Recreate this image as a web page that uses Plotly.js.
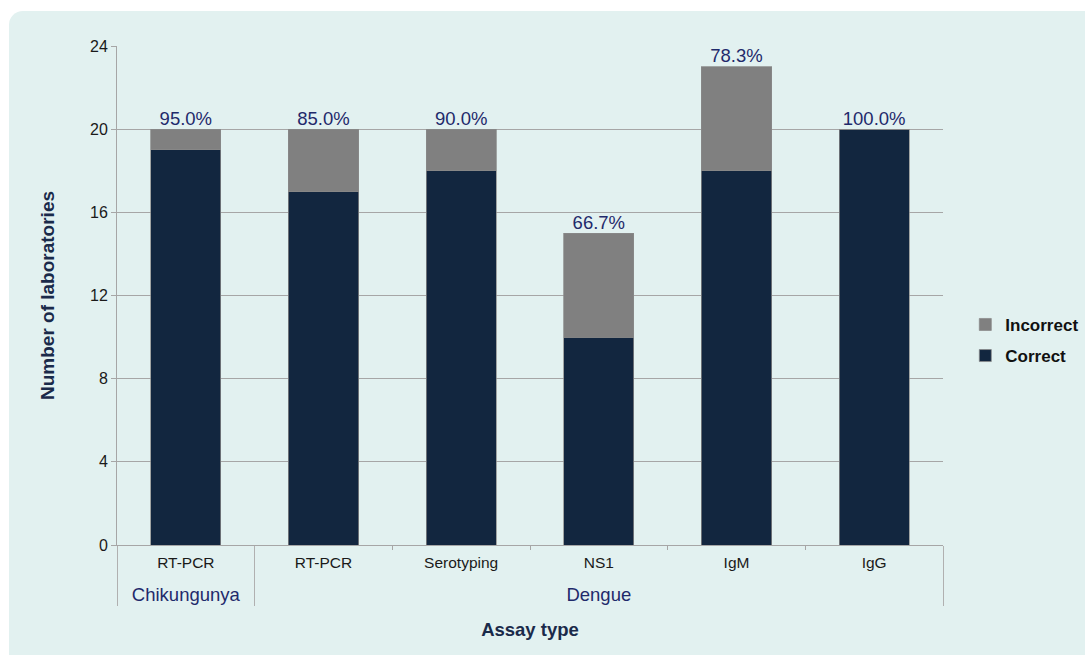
<!DOCTYPE html>
<html>
<head>
<meta charset="utf-8">
<script src="https://cdn.plot.ly/plotly-3.0.1.min.js"></script>
<style>
  html, body { margin: 0; padding: 0; background: #ffffff; }
  #panel { position: absolute; left: 9px; top: 11px; width: 1090px; height: 660px;
           background: #e2f1f0; border-radius: 14px; }
  #chart { position: absolute; left: 0; top: 0; width: 1085px; height: 655px; }
  .xtick text { font-size: 15.5px !important; fill: #1a1a1a !important; }
  .xtick2 text { fill: #1f2a6b !important; }
  g.xtick2 { transform: translateY(14px); }
</style>
</head>
<body>
<div id="panel"></div>
<div id="chart"></div>
<script>
const groups = ["Chikungunya", "Dengue", "Dengue", "Dengue", "Dengue", "Dengue"];
const assays = ["RT-PCR", "RT-PCR", "Serotyping", "NS1", "IgM", "IgG"];
const correct = [19, 17, 18, 10, 18, 20];
const incorrect = [1, 3, 2, 5, 5, 0];
const pctLabels = ["95.0%", "85.0%", "90.0%", "66.7%", "78.3%", "100.0%"];
const totals = correct.map((c, i) => c + incorrect[i]);

const x = [groups, assays];
const font = "Liberation Sans, Arial, sans-serif";

const traces = [
  { type: "bar", name: "Correct", x: x, y: correct, legendgroup: "c", legendrank: 2,
    marker: { color: "#12263f", line: { color: "#8a8a8a", width: 0.75 } } },
  { type: "bar", name: "Incorrect", x: x, y: incorrect, legendgroup: "i", legendrank: 1,
    marker: { color: "#808080", line: { color: "#8a8a8a", width: 0.75 } } },
  { type: "scatter", mode: "text", x: x, y: totals, text: pctLabels,
    textposition: "top center", showlegend: false, hoverinfo: "skip",
    textfont: { family: font, size: 18.5, color: "#1f2a6b" } }
];

const layout = {
  width: 1085, height: 655,
  paper_bgcolor: "rgba(0,0,0,0)", plot_bgcolor: "rgba(0,0,0,0)",
  barmode: "stack", bargap: 0.49,
  margin: { l: 117, r: 142, t: 46, b: 110, autoexpand: false },
  font: { family: font, color: "#1a1a1a" },
  showlegend: true,
  legend: { x: 1.027, y: 0.41, xanchor: "left", yanchor: "middle",
            traceorder: "grouped", tracegroupgap: 6,
            font: { size: 17, color: "#111111", weight: "bold" },
            bgcolor: "rgba(0,0,0,0)", itemclick: false },
  xaxis: {
    type: "multicategory",
    tickfont: { size: 18.5, color: "#1a1a1a" },
    showline: true, linecolor: "#a6a6a6", linewidth: 1,
    ticks: "outside", ticklen: 4, tickcolor: "#a6a6a6",
    showdividers: true, dividercolor: "#b0b0b0", dividerwidth: 1,
    showgrid: false, automargin: false,
    title: { text: "<b>Assay type</b>", font: { size: 18.5, color: "#1a2a4a" }, standoff: 18 }
  },
  yaxis: {
    range: [0, 24], tickvals: [0, 4, 8, 12, 16, 20, 24],
    tickfont: { size: 16, color: "#1a1a1a" },
    showgrid: true, gridcolor: "#a6a6a6", gridwidth: 1,
    showline: true, linecolor: "#a6a6a6", linewidth: 1,
    ticks: "outside", ticklen: 5, tickcolor: "#a6a6a6",
    zeroline: false, automargin: false,
    title: { text: "<b>Number of laboratories</b>", font: { size: 19, color: "#1a2a4a" }, standoff: 30 }
  }
};

Plotly.newPlot("chart", traces, layout, { displayModeBar: false, staticPlot: true });
</script>
</body>
</html>
